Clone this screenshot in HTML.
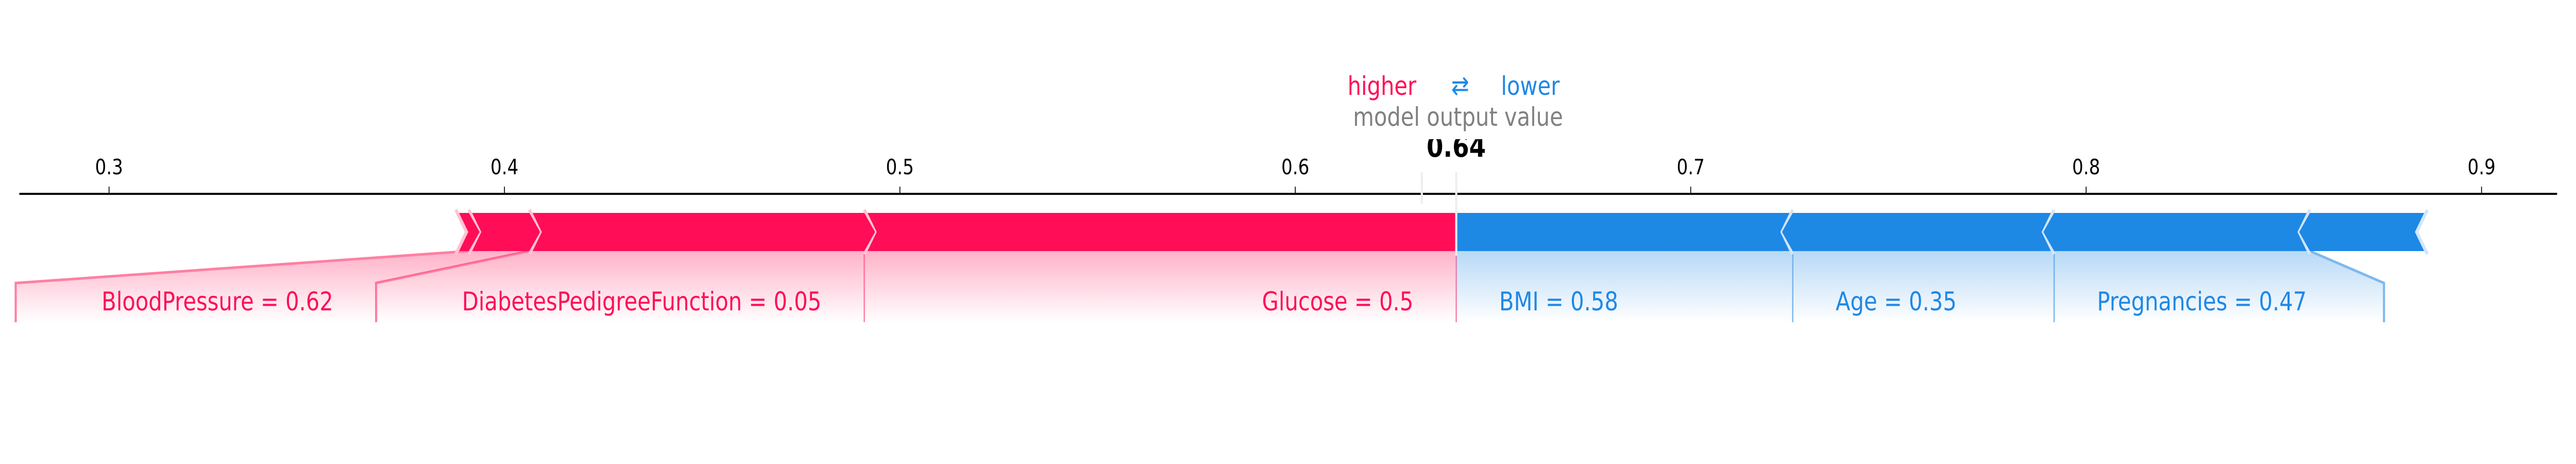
<!DOCTYPE html>
<html><head><meta charset="utf-8">
<style>html,body{margin:0;padding:0;background:#fff;width:100%;height:100%;overflow:hidden;}svg{display:block;width:100vw;height:100vh;}text{font-family:"DejaVu Sans","Liberation Sans",sans-serif;}</style>
</head><body>
<svg id="chart" viewBox="0 0 6000 900" preserveAspectRatio="none" xmlns="http://www.w3.org/2000/svg">
<defs>
<linearGradient id="gRed" x1="0" y1="0" x2="0" y2="1"><stop offset="0" stop-color="#ff0d57" stop-opacity="0.32"/><stop offset="1" stop-color="#ff0d57" stop-opacity="0"/></linearGradient>
<linearGradient id="gBlue" x1="0" y1="0" x2="0" y2="1"><stop offset="0" stop-color="#1e88e5" stop-opacity="0.32"/><stop offset="1" stop-color="#1e88e5" stop-opacity="0"/></linearGradient>
</defs>
<g id="layer-fill"></g><g id="layer-bar"></g><g id="layer-axis"></g><g id="layer-text"></g>
</svg>
<script>
const tickValues = [0.3, 0.4, 0.5, 0.6, 0.7, 0.8, 0.9];
const tickLabels = ["0.3", "0.4", "0.5", "0.6", "0.7", "0.8", "0.9"];
const outputValue = 0.6407;
const baseMarker = 0.632;
const redNames = ["Glucose = 0.5", "DiabetesPedigreeFunction = 0.05", "BloodPressure = 0.62", ""];
const redEffects = [0.1497, 0.0847, 0.0153, 0.0033];
const blueNames = ["BMI = 0.58", "Age = 0.35", "Pregnancies = 0.47", ""];
const blueEffects = [0.0851, 0.0661, 0.0647, 0.0297];

const NS = "http://www.w3.org/2000/svg";
const X = v => 254 + (v - 0.3) * 9210;
const TOP = 413, BOT = 487, MID = 450, BOXT = 549, BOXB = 625, D = 25, LY = 602;
const FS = 50;
const RED = "#ff0d57", BLUE = "#1e88e5";
function mk(tag, attrs, parent) {
  const e = document.createElementNS(NS, tag);
  for (const k in attrs) e.setAttribute(k, attrs[k]);
  parent.appendChild(e); return e;
}
const fillL = document.getElementById('layer-fill');
const barL = document.getElementById('layer-bar');
const axL = document.getElementById('layer-axis');
const txL = document.getElementById('layer-text');

const axis = mk('line', {x1: 45, x2: 5956, y1: 376, y2: 376, stroke: '#000', 'stroke-width': 4}, axL);


tickValues.forEach((v, i) => {
  const t = mk('line', {x1: X(v), x2: X(v), y1: 362, y2: 376, stroke: '#000', 'stroke-width': 2}, axL);
  
  
  const l = mk('text', {x: X(v), y: 338, 'text-anchor': 'middle', 'font-size': 41, fill: '#000'}, axL);
  l.textContent = tickLabels[i];
  
  
});
const gm1 = mk('line', {x1: X(baseMarker), x2: X(baseMarker), y1: 334, y2: 395, stroke: '#eeeeee', 'stroke-width': 5}, axL);


const gm2 = mk('line', {x1: X(outputValue), x2: X(outputValue), y1: 334, y2: 496, stroke: '#eeeeee', 'stroke-width': 5}, axL);



function measure(str) {
  const t = mk('text', {x: 100, y: 100, 'font-size': FS, opacity: 0}, txL);
  t.textContent = str; const w = t.getComputedTextLength(); txL.removeChild(t); return w;
}

let cur = outputValue; let boxRight = X(outputValue);
redEffects.forEach((eff, i) => {
  const b = cur, a = cur - eff; cur = a;
  const xa = X(a), xb = X(b);
  const tip = i === 0 ? 0 : D;
  const seg = mk('polygon', {points: `${xa},${TOP} ${xb},${TOP} ${xb + tip},${MID} ${xb},${BOT} ${xa},${BOT} ${xa + D},${MID}`, fill: RED}, barL);
  
  
  const sep = mk('polyline', {points: `${xa},${TOP - 6} ${xa + D},${MID} ${xa},${BOT + 6}`, fill: 'none', stroke: '#ffc3d5', 'stroke-width': 7}, barL);
  
  
  if (!redNames[i]) return;
  const w = measure(redNames[i]);
  const boxLeft = Math.min(xa, boxRight - w - 300);
  const poly = mk('polygon', {points: `${xa},${BOT} ${xb},${BOT} ${boxRight},${BOXT} ${boxRight},${BOXB} ${boxLeft},${BOXB} ${boxLeft},${BOXT}`, fill: 'url(#gRed)'}, fillL);
  
  
  const con = mk('polyline', {points: `${xa},${BOT} ${boxLeft},${BOXT} ${boxLeft},${BOXB}`, fill: 'none', stroke: '#ff7fa3', 'stroke-width': boxLeft === xa ? 3 : 5}, fillL);
  
  
  const t = mk('text', {x: boxRight - 100, y: LY, 'text-anchor': 'end', 'font-size': FS, fill: RED}, txL);
  t.textContent = redNames[i];
  
  
  boxRight = boxLeft;
});
const cl = mk('line', {x1: X(outputValue), x2: X(outputValue), y1: BOT, y2: BOXB, stroke: '#ff7fa3', 'stroke-width': 3}, fillL);



cur = outputValue; let boxLeftB = X(outputValue);
blueEffects.forEach((eff, i) => {
  const a = cur, b = cur + eff; cur = b;
  const xa = X(a), xb = X(b);
  const tip = i === 0 ? 0 : D;
  const seg = mk('polygon', {points: `${xa},${TOP} ${xb},${TOP} ${xb - D},${MID} ${xb},${BOT} ${xa},${BOT} ${xa - tip},${MID}`, fill: BLUE}, barL);
  
  
  const sep = mk('polyline', {points: `${xb},${TOP - 6} ${xb - D},${MID} ${xb},${BOT + 6}`, fill: 'none', stroke: '#d1e6fa', 'stroke-width': 7}, barL);
  
  
  if (!blueNames[i]) return;
  const w = measure(blueNames[i]);
  const boxRightB = Math.max(xb, boxLeftB + w + 280);
  const poly = mk('polygon', {points: `${xa},${BOT} ${xb},${BOT} ${boxRightB},${BOXT} ${boxRightB},${BOXB} ${boxLeftB},${BOXB} ${boxLeftB},${BOXT}`, fill: 'url(#gBlue)'}, fillL);
  
  
  const con = mk('polyline', {points: `${xb},${BOT} ${boxRightB},${BOXT} ${boxRightB},${BOXB}`, fill: 'none', stroke: '#7fb8ec', 'stroke-width': boxRightB === xb ? 3 : 5}, fillL);
  
  
  const t = mk('text', {x: boxLeftB + 100, y: LY, 'text-anchor': 'start', 'font-size': FS, fill: BLUE}, txL);
  t.textContent = blueNames[i];
  
  
  boxLeftB = boxRightB;
});

const ov = mk('text', {x: X(outputValue), y: 304, 'text-anchor': 'middle', 'font-size': 56, 'font-weight': 'bold', fill: '#000'}, txL);
ov.textContent = outputValue.toFixed(2);


const mask = mk('rect', {x: 3100, y: 200, width: 600, height: 70, fill: '#fff'}, txL);


const mov = mk('text', {x: 3396, y: 244, 'text-anchor': 'middle', 'font-size': FS, fill: '#808080'}, txL);
mov.textContent = 'model output value';


const hi = mk('text', {x: 3299, y: 184, 'text-anchor': 'end', 'font-size': FS, fill: RED}, txL);
hi.textContent = 'higher';


const ar = mk('text', {x: 3401, y: 183, 'text-anchor': 'middle', 'font-size': FS, fill: BLUE}, txL);
ar.textContent = '⇄';


const lo = mk('text', {x: 3496, y: 184, 'text-anchor': 'start', 'font-size': FS, fill: BLUE}, txL);
lo.textContent = 'lower';


</script>
</body></html>
